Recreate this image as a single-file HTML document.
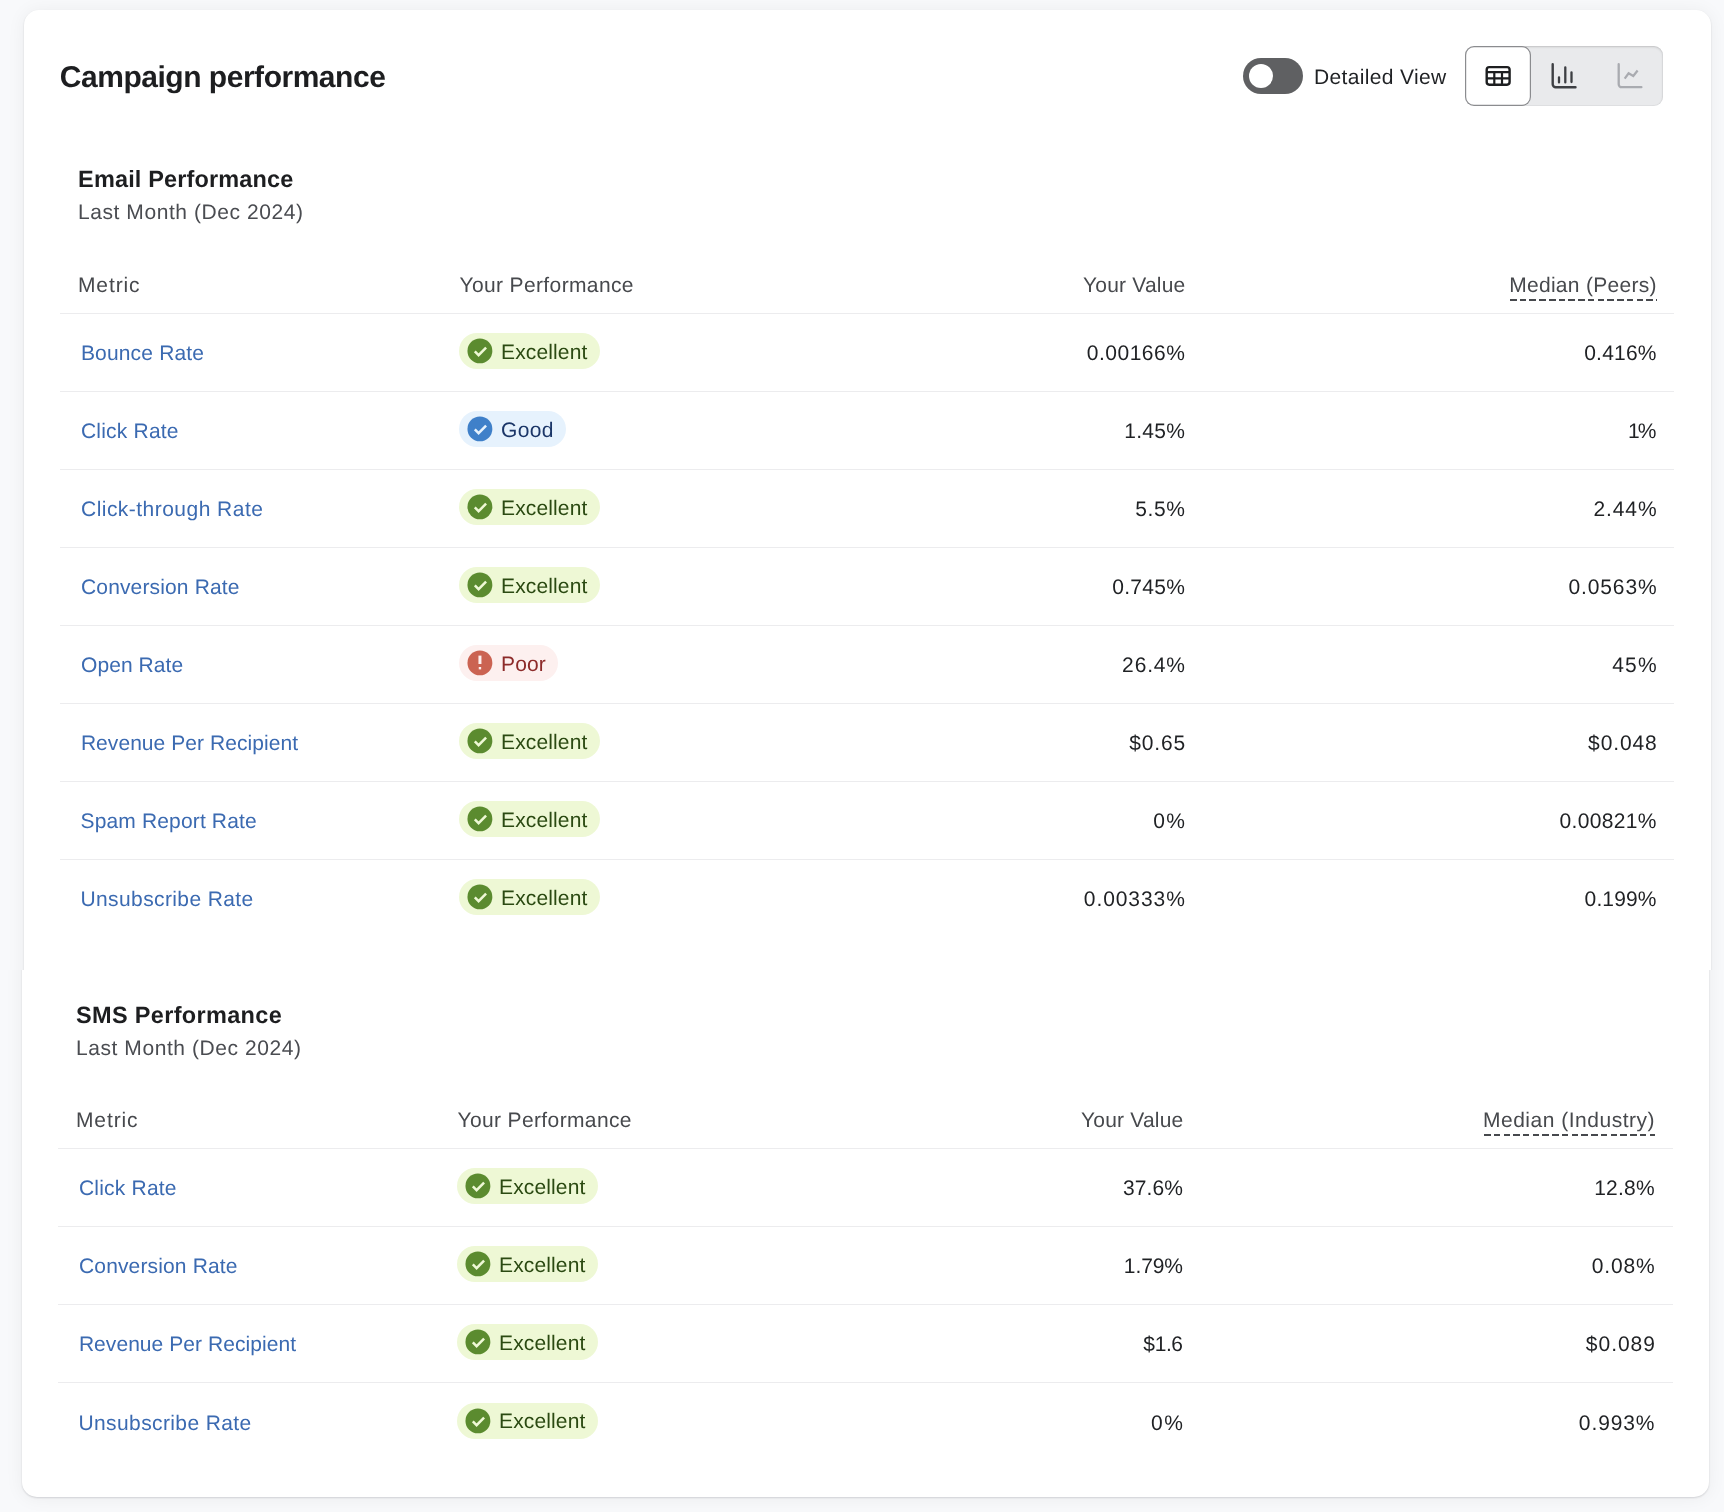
<!DOCTYPE html>
<html lang="en"><head><meta charset="utf-8"><title>Campaign performance</title>
<style>
html,body{margin:0;padding:0}
body{width:1724px;height:1512px;overflow:hidden;background:#f8f9fb;font-family:"Liberation Sans",sans-serif}
.page{position:relative;width:1724px;height:1512px;overflow:hidden;background:#f8f9fb}
.clip{position:absolute;left:0;width:1724px;overflow:hidden}
.shift{position:absolute;left:0;width:1724px;height:1512px}
.card{position:absolute;background:#fff;border-radius:15px;box-shadow:0 1px 2px rgba(10,10,20,.14),0 1px 18px 1px rgba(10,10,25,.05)}
.tl{position:absolute;left:0;top:0;width:1724px;height:1512px;will-change:transform}
.t{position:absolute;margin:0;padding:0;font-weight:400;text-decoration:none;text-rendering:geometricPrecision;white-space:nowrap;font-family:"Liberation Sans",sans-serif}
.row{position:absolute;width:1614px;height:1px;background:#ececee}
.dash{position:absolute;height:1.5px;background:repeating-linear-gradient(90deg,#47494d 0,#47494d 6.5px,transparent 6.5px,transparent 9.75px)}
.badge{position:absolute;height:36px;border-radius:18px;background:var(--bg)}
.badge .bi{position:absolute;left:8px;top:5px}
.exc{--bg:#eef8d5;--ic:#5b8b2f}
.good{--bg:#e6f2fd;--ic:#3f80c9}
.poor{--bg:#fdf0ef;--ic:#cb6352}
.toggle{position:absolute;left:1243px;top:58px;width:60px;height:36px;border-radius:18px;background:#5f6062}
.toggle i{position:absolute;left:6px;top:6px;width:24px;height:24px;border-radius:12px;background:#fff}
.seg{position:absolute;left:1465px;top:46px;width:198px;height:60px;border-radius:9px;background:#e9eaec;box-shadow:inset 0 1px 2.5px rgba(0,0,0,.15),inset 0 0 0 1px rgba(0,0,0,.03)}
.seg .sel{position:absolute;left:0;top:0;width:66px;height:60px;border-radius:9px;background:#fff;box-shadow:inset 0 0 0 1.2px #8b8c8f}
.seg svg{position:absolute;top:0;left:0}

</style></head>
<body>
<div class="page">
  <div class="clip" style="top:0;height:970px">
    <div class="card" style="left:24px;top:10px;width:1687px;height:1100px"></div>
    <div class="toggle"><i></i></div>
    <div class="seg"><div class="sel"></div>
      <svg width="198" height="60" viewBox="1465 46 198 60" fill="none" stroke-linecap="round" stroke-linejoin="round">
        <g stroke="#1d1e20" stroke-width="2.4">
          <rect x="1486.7" y="67.1" width="22.9" height="17.6" rx="2.6"/>
          <path d="M1486.7 72.1H1509.6M1486.7 78.4H1509.6M1494.3 72.1V84.7M1502 72.1V84.7" stroke-width="2.2" stroke-linecap="butt"/>
        </g>
        <g stroke="#3d3f43" stroke-width="2.4">
          <path d="M1552.7 64.2V84.2a3 3 0 0 0 3 3H1575.5"/>
          <path d="M1559 77.3V82.4M1565.3 67.3V82.4M1571.5 72.3V82.1" stroke-width="2.3"/>
        </g>
        <g stroke="#a9abb0" stroke-width="2.3">
          <path d="M1618.7 64.2V84.2a3 3 0 0 0 3 3H1641.4"/>
          <path d="M1624.7 78.7L1628.6 73.3L1633.3 76L1637.6 70.5" stroke-width="2.2" stroke-linecap="butt" stroke-linejoin="miter"/>
        </g>
      </svg>
    </div>

    <div class="tl">
    <h1 class="t" style="left:59.83px;top:63.10px;font-size:30px;line-height:30px;color:#1d1e20;letter-spacing:-0.479px;font-weight:700">Campaign performance</h1><span class="t" style="left:1313.98px;top:66.60px;font-size:21px;line-height:21px;color:#1f2124;letter-spacing:0.343px">Detailed View</span>
    <h2 class="t" style="left:78.12px;top:167.80px;font-size:23.5px;line-height:23.5px;color:#1d1e20;letter-spacing:0.146px;font-weight:700">Email Performance</h2><p class="t" style="left:77.98px;top:202.00px;font-size:21px;line-height:21px;color:#4a4c51;letter-spacing:0.573px">Last Month (Dec 2024)</p><span class="t" style="left:77.98px;top:275.00px;font-size:21px;line-height:21px;color:#47494d;letter-spacing:0.891px">Metric</span><span class="t" style="left:459.48px;top:275.00px;font-size:21px;line-height:21px;color:#47494d;letter-spacing:0.370px">Your Performance</span><span class="t" style="left:1082.98px;top:275.00px;font-size:21px;line-height:21px;color:#47494d;letter-spacing:0.206px">Your Value</span><span class="t" style="left:1509.18px;top:275.00px;font-size:21px;line-height:21px;color:#47494d;letter-spacing:0.289px">Median (Peers)</span><i class="dash" style="left:1509.9px;top:299.4px;width:147.2px"></i><div class="row" style="left:60px;top:313px;width:1614px"></div><a class="t" style="left:80.88px;top:343.00px;font-size:21px;line-height:21px;color:#3b6ab1;letter-spacing:0.176px">Bounce Rate</a><div class="badge exc" style="left:459px;top:333px;width:141px"><svg class="bi" viewBox="0 0 26 26" width="26" height="26"><g transform="translate(.4 .4)"><circle cx="12.5" cy="12.5" r="12.45" fill="var(--ic)"/><path d="M7.4 13 L11.2 16.8 L18.7 9.3" fill="none" stroke="var(--bg)" stroke-width="2.5"/></g></svg></div><span class="t" style="left:501.08px;top:341.60px;font-size:21px;line-height:21px;color:#2b4a12;letter-spacing:0.129px">Excellent</span><span class="t" style="left:1086.86px;top:343.00px;font-size:21px;line-height:21px;color:#1f2124;letter-spacing:0.481px">0.00166%</span><span class="t" style="left:1584.16px;top:343.00px;font-size:21px;line-height:21px;color:#1f2124;letter-spacing:0.231px">0.416%</span><div class="row" style="left:60px;top:391px;width:1614px"></div><a class="t" style="left:81.00px;top:421.00px;font-size:21px;line-height:21px;color:#3b6ab1;letter-spacing:0.200px">Click Rate</a><div class="badge good" style="left:459px;top:411px;width:107px"><svg class="bi" viewBox="0 0 26 26" width="26" height="26"><g transform="translate(.4 .4)"><circle cx="12.5" cy="12.5" r="12.45" fill="var(--ic)"/><path d="M7.4 13 L11.2 16.8 L18.7 9.3" fill="none" stroke="var(--bg)" stroke-width="2.5"/></g></svg></div><span class="t" style="left:500.99px;top:419.60px;font-size:21px;line-height:21px;color:#1b3668;letter-spacing:0.369px">Good</span><span class="t" style="left:1124.20px;top:421.00px;font-size:21px;line-height:21px;color:#1f2124;letter-spacing:0.318px">1.45%</span><span class="t" style="left:1627.90px;top:421.00px;font-size:21px;line-height:21px;color:#1f2124;letter-spacing:-1.827px">1%</span><div class="row" style="left:60px;top:469px;width:1614px"></div><a class="t" style="left:81.00px;top:499.00px;font-size:21px;line-height:21px;color:#3b6ab1;letter-spacing:0.468px">Click-through Rate</a><div class="badge exc" style="left:459px;top:489px;width:141px"><svg class="bi" viewBox="0 0 26 26" width="26" height="26"><g transform="translate(.4 .4)"><circle cx="12.5" cy="12.5" r="12.45" fill="var(--ic)"/><path d="M7.4 13 L11.2 16.8 L18.7 9.3" fill="none" stroke="var(--bg)" stroke-width="2.5"/></g></svg></div><span class="t" style="left:501.08px;top:497.60px;font-size:21px;line-height:21px;color:#2b4a12;letter-spacing:0.129px">Excellent</span><span class="t" style="left:1135.15px;top:499.00px;font-size:21px;line-height:21px;color:#1f2124;letter-spacing:0.648px">5.5%</span><span class="t" style="left:1593.52px;top:499.00px;font-size:21px;line-height:21px;color:#1f2124;letter-spacing:0.888px">2.44%</span><div class="row" style="left:60px;top:547px;width:1614px"></div><a class="t" style="left:81.00px;top:577.00px;font-size:21px;line-height:21px;color:#3b6ab1;letter-spacing:0.146px">Conversion Rate</a><div class="badge exc" style="left:459px;top:567px;width:141px"><svg class="bi" viewBox="0 0 26 26" width="26" height="26"><g transform="translate(.4 .4)"><circle cx="12.5" cy="12.5" r="12.45" fill="var(--ic)"/><path d="M7.4 13 L11.2 16.8 L18.7 9.3" fill="none" stroke="var(--bg)" stroke-width="2.5"/></g></svg></div><span class="t" style="left:501.08px;top:575.60px;font-size:21px;line-height:21px;color:#2b4a12;letter-spacing:0.129px">Excellent</span><span class="t" style="left:1112.16px;top:577.00px;font-size:21px;line-height:21px;color:#1f2124;letter-spacing:0.311px">0.745%</span><span class="t" style="left:1568.56px;top:577.00px;font-size:21px;line-height:21px;color:#1f2124;letter-spacing:0.857px">0.0563%</span><div class="row" style="left:60px;top:625px;width:1614px"></div><a class="t" style="left:81.06px;top:655.00px;font-size:21px;line-height:21px;color:#3b6ab1;letter-spacing:0.066px">Open Rate</a><div class="badge poor" style="left:459px;top:645px;width:98.5px"><svg class="bi" viewBox="0 0 26 26" width="26" height="26"><g transform="translate(.4 .4)"><circle cx="12.5" cy="12.5" r="12.45" fill="var(--ic)"/><rect x="11.05" y="5.2" width="3.0" height="8.4" fill="var(--bg)"/><rect x="11.35" y="16.6" width="2.4" height="2.4" fill="var(--bg)"/></g></svg></div><span class="t" style="left:501.08px;top:653.60px;font-size:21px;line-height:21px;color:#8d2b2a;letter-spacing:0.117px">Poor</span><span class="t" style="left:1122.12px;top:655.00px;font-size:21px;line-height:21px;color:#1f2124;letter-spacing:0.838px">26.4%</span><span class="t" style="left:1612.18px;top:655.00px;font-size:21px;line-height:21px;color:#1f2124;letter-spacing:1.259px">45%</span><div class="row" style="left:60px;top:703px;width:1614px"></div><a class="t" style="left:80.88px;top:733.00px;font-size:21px;line-height:21px;color:#3b6ab1;letter-spacing:0.058px">Revenue Per Recipient</a><div class="badge exc" style="left:459px;top:723px;width:141px"><svg class="bi" viewBox="0 0 26 26" width="26" height="26"><g transform="translate(.4 .4)"><circle cx="12.5" cy="12.5" r="12.45" fill="var(--ic)"/><path d="M7.4 13 L11.2 16.8 L18.7 9.3" fill="none" stroke="var(--bg)" stroke-width="2.5"/></g></svg></div><span class="t" style="left:501.08px;top:731.60px;font-size:21px;line-height:21px;color:#2b4a12;letter-spacing:0.129px">Excellent</span><span class="t" style="left:1129.37px;top:733.00px;font-size:21px;line-height:21px;color:#1f2124;letter-spacing:0.813px">$0.65</span><span class="t" style="left:1588.07px;top:733.00px;font-size:21px;line-height:21px;color:#1f2124;letter-spacing:0.888px">$0.048</span><div class="row" style="left:60px;top:781px;width:1614px"></div><a class="t" style="left:80.47px;top:811.00px;font-size:21px;line-height:21px;color:#3b6ab1;letter-spacing:0.152px">Spam Report Rate</a><div class="badge exc" style="left:459px;top:801px;width:141px"><svg class="bi" viewBox="0 0 26 26" width="26" height="26"><g transform="translate(.4 .4)"><circle cx="12.5" cy="12.5" r="12.45" fill="var(--ic)"/><path d="M7.4 13 L11.2 16.8 L18.7 9.3" fill="none" stroke="var(--bg)" stroke-width="2.5"/></g></svg></div><span class="t" style="left:501.08px;top:809.60px;font-size:21px;line-height:21px;color:#2b4a12;letter-spacing:0.129px">Excellent</span><span class="t" style="left:1153.16px;top:811.00px;font-size:21px;line-height:21px;color:#1f2124;letter-spacing:1.312px">0%</span><span class="t" style="left:1559.56px;top:811.00px;font-size:21px;line-height:21px;color:#1f2124;letter-spacing:0.324px">0.00821%</span><div class="row" style="left:60px;top:859px;width:1614px"></div><a class="t" style="left:80.47px;top:889.00px;font-size:21px;line-height:21px;color:#3b6ab1;letter-spacing:0.392px">Unsubscribe Rate</a><div class="badge exc" style="left:459px;top:879px;width:141px"><svg class="bi" viewBox="0 0 26 26" width="26" height="26"><g transform="translate(.4 .4)"><circle cx="12.5" cy="12.5" r="12.45" fill="var(--ic)"/><path d="M7.4 13 L11.2 16.8 L18.7 9.3" fill="none" stroke="var(--bg)" stroke-width="2.5"/></g></svg></div><span class="t" style="left:501.08px;top:887.60px;font-size:21px;line-height:21px;color:#2b4a12;letter-spacing:0.129px">Excellent</span><span class="t" style="left:1083.86px;top:889.00px;font-size:21px;line-height:21px;color:#1f2124;letter-spacing:0.910px">0.00333%</span><span class="t" style="left:1584.56px;top:889.00px;font-size:21px;line-height:21px;color:#1f2124;letter-spacing:0.151px">0.199%</span>
    </div>
  </div>
  <div class="clip" style="top:970px;height:542px">
    <div class="shift" style="top:-970px">
      <div class="card" style="left:22px;top:500px;width:1687px;height:997px"></div>
      <div class="tl">
      <h2 class="t" style="left:76.00px;top:1003.60px;font-size:23.5px;line-height:23.5px;color:#1d1e20;letter-spacing:0.332px;font-weight:700">SMS Performance</h2><p class="t" style="left:75.98px;top:1037.80px;font-size:21px;line-height:21px;color:#4a4c51;letter-spacing:0.573px">Last Month (Dec 2024)</p><span class="t" style="left:75.98px;top:1110.00px;font-size:21px;line-height:21px;color:#47494d;letter-spacing:0.891px">Metric</span><span class="t" style="left:457.48px;top:1110.00px;font-size:21px;line-height:21px;color:#47494d;letter-spacing:0.370px">Your Performance</span><span class="t" style="left:1080.98px;top:1110.00px;font-size:21px;line-height:21px;color:#47494d;letter-spacing:0.206px">Your Value</span><span class="t" style="left:1482.98px;top:1110.00px;font-size:21px;line-height:21px;color:#47494d;letter-spacing:0.510px">Median (Industry)</span><i class="dash" style="left:1483.7px;top:1134.4px;width:171.6px"></i><div class="row" style="left:58px;top:1148px;width:1615px"></div><a class="t" style="left:79.00px;top:1178.00px;font-size:21px;line-height:21px;color:#3b6ab1;letter-spacing:0.200px">Click Rate</a><div class="badge exc" style="left:457px;top:1168px;width:141px"><svg class="bi" viewBox="0 0 26 26" width="26" height="26"><g transform="translate(.4 .4)"><circle cx="12.5" cy="12.5" r="12.45" fill="var(--ic)"/><path d="M7.4 13 L11.2 16.8 L18.7 9.3" fill="none" stroke="var(--bg)" stroke-width="2.5"/></g></svg></div><span class="t" style="left:499.08px;top:1176.60px;font-size:21px;line-height:21px;color:#2b4a12;letter-spacing:0.129px">Excellent</span><span class="t" style="left:1123.02px;top:1178.00px;font-size:21px;line-height:21px;color:#1f2124;letter-spacing:0.112px">37.6%</span><span class="t" style="left:1594.20px;top:1178.00px;font-size:21px;line-height:21px;color:#1f2124;letter-spacing:0.218px">12.8%</span><div class="row" style="left:58px;top:1226px;width:1615px"></div><a class="t" style="left:79.00px;top:1256.00px;font-size:21px;line-height:21px;color:#3b6ab1;letter-spacing:0.146px">Conversion Rate</a><div class="badge exc" style="left:457px;top:1246px;width:141px"><svg class="bi" viewBox="0 0 26 26" width="26" height="26"><g transform="translate(.4 .4)"><circle cx="12.5" cy="12.5" r="12.45" fill="var(--ic)"/><path d="M7.4 13 L11.2 16.8 L18.7 9.3" fill="none" stroke="var(--bg)" stroke-width="2.5"/></g></svg></div><span class="t" style="left:499.08px;top:1254.60px;font-size:21px;line-height:21px;color:#2b4a12;letter-spacing:0.129px">Excellent</span><span class="t" style="left:1123.80px;top:1256.00px;font-size:21px;line-height:21px;color:#1f2124;letter-spacing:-0.082px">1.79%</span><span class="t" style="left:1591.66px;top:1256.00px;font-size:21px;line-height:21px;color:#1f2124;letter-spacing:0.853px">0.08%</span><div class="row" style="left:58px;top:1304px;width:1615px"></div><a class="t" style="left:78.88px;top:1334.00px;font-size:21px;line-height:21px;color:#3b6ab1;letter-spacing:0.058px">Revenue Per Recipient</a><div class="badge exc" style="left:457px;top:1324px;width:141px"><svg class="bi" viewBox="0 0 26 26" width="26" height="26"><g transform="translate(.4 .4)"><circle cx="12.5" cy="12.5" r="12.45" fill="var(--ic)"/><path d="M7.4 13 L11.2 16.8 L18.7 9.3" fill="none" stroke="var(--bg)" stroke-width="2.5"/></g></svg></div><span class="t" style="left:499.08px;top:1332.60px;font-size:21px;line-height:21px;color:#2b4a12;letter-spacing:0.129px">Excellent</span><span class="t" style="left:1143.37px;top:1334.00px;font-size:21px;line-height:21px;color:#1f2124;letter-spacing:-0.401px">$1.6</span><span class="t" style="left:1585.87px;top:1334.00px;font-size:21px;line-height:21px;color:#1f2124;letter-spacing:0.966px">$0.089</span><div class="row" style="left:58px;top:1382px;width:1615px"></div><a class="t" style="left:78.47px;top:1412.70px;font-size:21px;line-height:21px;color:#3b6ab1;letter-spacing:0.392px">Unsubscribe Rate</a><div class="badge exc" style="left:457px;top:1402.7px;width:141px"><svg class="bi" viewBox="0 0 26 26" width="26" height="26"><g transform="translate(.4 .4)"><circle cx="12.5" cy="12.5" r="12.45" fill="var(--ic)"/><path d="M7.4 13 L11.2 16.8 L18.7 9.3" fill="none" stroke="var(--bg)" stroke-width="2.5"/></g></svg></div><span class="t" style="left:499.08px;top:1411.30px;font-size:21px;line-height:21px;color:#2b4a12;letter-spacing:0.129px">Excellent</span><span class="t" style="left:1151.06px;top:1412.70px;font-size:21px;line-height:21px;color:#1f2124;letter-spacing:1.412px">0%</span><span class="t" style="left:1578.86px;top:1412.70px;font-size:21px;line-height:21px;color:#1f2124;letter-spacing:0.891px">0.993%</span>
      </div>
    </div>
  </div>
</div>
</body></html>
